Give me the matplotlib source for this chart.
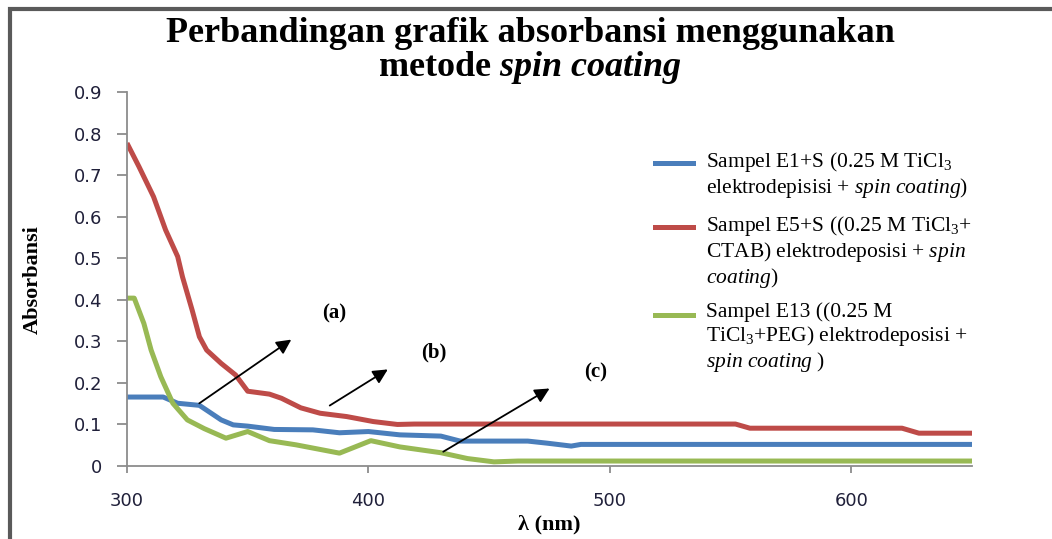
import matplotlib
matplotlib.use("Agg")
import matplotlib.pyplot as plt
from matplotlib.lines import Line2D
from matplotlib.patches import Rectangle

plt.rcParams['mathtext.fontset'] = 'custom'
plt.rcParams['mathtext.rm'] = 'Liberation Serif'
plt.rcParams['mathtext.it'] = 'Liberation Serif:italic'
plt.rcParams['mathtext.bf'] = 'Liberation Serif:bold'
plt.rcParams['mathtext.bfit'] = 'Liberation Serif:bold:italic'

# data
wl_e1 = [300, 315, 321, 330, 339, 344, 350, 361, 377, 388, 400, 413, 430, 438, 466, 474, 484, 488, 650]
abs_e1 = [0.166, 0.166, 0.151, 0.146, 0.111, 0.099, 0.096, 0.088, 0.087, 0.080, 0.083, 0.075, 0.072,
          0.060, 0.060, 0.055, 0.048, 0.052, 0.052]

wl_e5 = [300, 305, 311, 316, 321, 323, 327, 330, 333, 339, 345, 350, 359, 364, 372, 380, 391, 402,
         412, 419, 552, 558, 621, 628, 650]
abs_e5 = [0.777, 0.72, 0.648, 0.568, 0.504, 0.455, 0.375, 0.311, 0.279, 0.247, 0.219, 0.18, 0.173,
          0.163, 0.14, 0.127, 0.119, 0.107, 0.100, 0.101, 0.101, 0.091, 0.091, 0.079, 0.079]

wl_e13 = [300, 303, 307, 310, 314, 319, 325, 332, 341, 350, 359, 370, 388, 401, 413, 430, 441, 452,
          462, 650]
abs_e13 = [0.404, 0.404, 0.343, 0.279, 0.215, 0.151, 0.111, 0.090, 0.067, 0.083, 0.061, 0.051, 0.031,
           0.061, 0.046, 0.032, 0.018, 0.010, 0.012, 0.012]

series_colors = ['#4A7EBB', '#BE4B48', '#98B954']
legend_labels = [
    "Sampel E1+S (0.25 M TiCl$_3$\nelektrodepisisi + $\\mathit{spin\\ coating)}$",
    "Sampel E5+S ((0.25 M TiCl$_3$+\nCTAB) elektrodeposisi + $\\mathit{spin}$\n$\\mathit{coating)}$",
    "Sampel E13 ((0.25 M\nTiCl$_3$+PEG) elektrodeposisi +\n$\\mathit{spin\\ coating}$ )",
]

# annotations: label, arrow start, arrow end, label position (data coords)
notes = [
    ("(a)", (329, 0.147), (369, 0.308), (386, 0.368)),
    ("(b)", (383, 0.142), (409, 0.236), (427, 0.274)),
    ("(c)", (430, 0.031), (476, 0.190), (494, 0.224)),
]

fig = plt.figure(figsize=(10.52, 5.39), dpi=100)
ax = fig.add_axes([0.1207, 0.1354, 0.8033, 0.6939])

for x, y, c in zip([wl_e1, wl_e5, wl_e13], [abs_e1, abs_e5, abs_e13], series_colors):
    ax.plot(x, y, color=c, lw=3.6, solid_joinstyle='round', solid_capstyle='butt')

ax.set_xlim(300, 650)
ax.set_ylim(0, 0.9)
ax.set_xticks([300, 400, 500, 600])
ax.set_yticks([i / 10 for i in range(10)])
ax.set_yticklabels(['0'] + [f"{i / 10:.1f}" for i in range(1, 10)])

for s in ['top', 'right']:
    ax.spines[s].set_visible(False)
for s in ['left', 'bottom']:
    ax.spines[s].set_color('#8c8c8c')
    ax.spines[s].set_linewidth(1.3)
ax.tick_params(axis='both', colors='#8c8c8c', labelcolor='#20203a', labelsize=13, width=1.3)
ax.tick_params(axis='x', length=5, pad=14)
ax.tick_params(axis='y', length=7, pad=11)

for lab, start, end, pos in notes:
    ax.annotate('', xy=end, xytext=start,
                arrowprops=dict(arrowstyle='-|>', color='black', lw=1.3, mutation_scale=22))
    ax.text(pos[0], pos[1], lab, ha='center', va='center', fontsize=15,
            family='Liberation Serif', fontweight='bold')

# titles and axis labels
fig.text(0.504, 1 - 33 / 539, "Perbandingan grafik absorbansi menggunakan", ha='center', va='center',
         fontsize=26, family='Liberation Serif', fontweight='bold')
fig.text(0.504, 1 - 67 / 539, "metode $\\mathbfit{spin\\ coating}$", ha='center', va='center',
         fontsize=26, family='Liberation Serif', fontweight='bold')
fig.text(33 / 1052, 1 - 280 / 539, "Absorbansi", rotation=90, ha='center', va='center',
         fontsize=16, family='Liberation Serif', fontweight='bold')
fig.text(549 / 1052, 1 - 524 / 539, "λ (nm)", ha='center', va='center',
         fontsize=16, family='Liberation Serif', fontweight='bold')

# legend drawn by hand so the sample line sits on the first text line
for (ly, c, lab) in zip([163, 227, 315], series_colors, legend_labels):
    yf = 1 - ly / 539
    fig.add_artist(Line2D([655 / 1052, 693 / 1052], [yf, yf], color=c, lw=3.6,
                          transform=fig.transFigure))
    fig.text(706 / 1052, 1 - (ly - 13) / 539, lab, ha='left', va='top', fontsize=15.5,
             family='Liberation Serif', linespacing=1.12)

# chart frame
fig.add_artist(Rectangle((10 / 1052, -0.2), 1.2, 1.2 - 9 / 539, transform=fig.transFigure,
                         fill=False, edgecolor='#5a5a5a', lw=3))

fig.savefig("out.png", dpi=100)
